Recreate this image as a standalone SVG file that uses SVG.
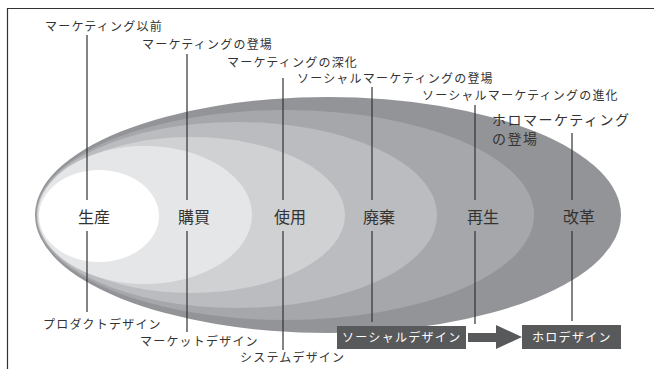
<svg xmlns="http://www.w3.org/2000/svg" width="654" height="369" viewBox="0 0 654 369">
<style>
text{font-family:"Noto Sans CJK JP","Noto Sans",sans-serif;fill:#333}
.lbl{font-size:12px;letter-spacing:1.2px}
.stage{font-size:16px}
.big{font-size:14px;letter-spacing:1.5px}
.box{fill:#58595b}
.boxt{font-size:12px;letter-spacing:1.3px;fill:#fff}
.ln{stroke:#333;stroke-width:1.2;fill:none}
.frame{stroke:#333;stroke-width:1.2;fill:none}
</style>
<rect width="654" height="369" fill="#fff"/>
<path class="frame" d="M7.5 369V8.5H654"/>
<g id="layers">
<ellipse cx="328" cy="215" rx="293" ry="118" fill="#939498"/>
<ellipse cx="285" cy="215" rx="249" ry="105" fill="#a6a7aa"/>
<ellipse cx="237" cy="215" rx="200" ry="93" fill="#bbbcbf"/>
<ellipse cx="191" cy="215" rx="154" ry="78" fill="#d0d1d3"/>
<ellipse cx="145" cy="215" rx="107" ry="69" fill="#e5e6e8"/>
<ellipse cx="99" cy="216" rx="60" ry="46" fill="#ffffff"/>
</g>
<g id="connectors">
<path class="ln" d="M87 35V200M87 231V312"/>
<path class="ln" d="M187 54V200M187 231V332"/>
<path class="ln" d="M283 78V200M283 231V350"/>
<path class="ln" d="M372 87V200M372 231V322"/>
<path class="ln" d="M475 105V200M475 231V324"/>
<path class="ln" d="M572 133V200M572 231V321"/>
<polygon class="box" points="468,333 496,333 496,325 522,337 496,349 496,342 468,342"/>
</g>
<g id="stage-seisan"><text class="stage" x="78" y="223">生産</text></g>
<g id="stage-kobai"><text class="stage" x="178" y="223">購買</text></g>
<g id="stage-shiyo"><text class="stage" x="274" y="223">使用</text></g>
<g id="stage-haiki"><text class="stage" x="363" y="223">廃棄</text></g>
<g id="stage-saisei"><text class="stage" x="467" y="223">再生</text></g>
<g id="stage-kaikaku"><text class="stage" x="563" y="223">改革</text></g>
<g id="top-1"><text class="lbl" x="45" y="31">マーケティング以前</text></g>
<g id="top-2"><text class="lbl" x="142" y="49">マーケティングの登場</text></g>
<g id="top-3"><text class="lbl" x="227" y="67">マーケティングの深化</text></g>
<g id="top-4"><text class="lbl" x="297" y="83">ソーシャルマーケティングの登場</text></g>
<g id="top-5"><text class="lbl" x="422" y="100">ソーシャルマーケティングの進化</text></g>
<g id="top-6"><text class="big" x="492" y="125">ホロマーケティング</text><text class="big" x="492" y="144">の登場</text></g>
<g id="bottom-1"><text class="lbl" x="43" y="329">プロダクトデザイン</text></g>
<g id="bottom-2"><text class="lbl" x="140" y="346">マーケットデザイン</text></g>
<g id="bottom-3"><text class="lbl" x="240" y="362">システムデザイン</text></g>
<g id="box-social"><rect class="box" x="337" y="326" width="129" height="23"/><text class="boxt" x="342" y="342">ソーシャルデザイン</text></g>
<g id="box-holo"><rect class="box" x="522" y="325" width="99" height="24"/><text class="boxt" x="532" y="342">ホロデザイン</text></g>
</svg>
